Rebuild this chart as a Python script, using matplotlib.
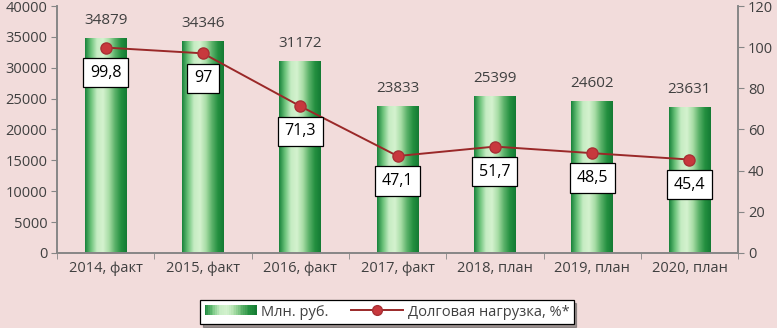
import matplotlib
matplotlib.use('Agg')
import matplotlib.pyplot as plt
import numpy as np
from matplotlib.colors import LinearSegmentedColormap
from matplotlib.legend_handler import HandlerBase
from matplotlib.patches import Rectangle
from matplotlib.lines import Line2D

plt.rcParams['font.family'] = ['Open Sans', 'DejaVu Sans']

years = ['2014, факт', '2015, факт', '2016, факт', '2017, факт',
         '2018, план', '2019, план', '2020, план']
mln_rub = [34879, 34346, 31172, 23833, 25399, 24602, 23631]
debt_load = [99.8, 97, 71.3, 47.1, 51.7, 48.5, 45.4]
debt_labels = ['99,8', '97', '71,3', '47,1', '51,7', '48,5', '45,4']

bg = '#f2dcdb'
axis_col = '#868686'
text_col = '#404040'
green_cmap = LinearSegmentedColormap.from_list(
    'grn', ['#17823a', '#6cc27a', '#c6ecc3', '#d4f2cf', '#a8dda6', '#5cb26a', '#249040', '#137a33'])

fig = plt.figure(figsize=(7.77, 3.28), dpi=100, facecolor=bg)
ax = fig.add_axes([0.0734, 0.2287, 0.8766, 0.753])
ax.set_facecolor(bg)
ax2 = ax.twinx()

x = np.arange(len(years))
w = 0.43
bars = ax.bar(x, mln_rub, width=w, color='none', edgecolor='none', zorder=2)
grad = np.linspace(0, 1, 256).reshape(1, -1)
for b in bars:
    bx, by = b.get_x(), b.get_y()
    im = ax.imshow(grad, cmap=green_cmap, aspect='auto', zorder=2,
                   extent=[bx, bx + b.get_width(), by, by + b.get_height()])
    im.set_clip_path(b)

for xi, v in zip(x, mln_rub):
    ax.annotate(str(v), (xi, v), xytext=(0, 7), textcoords='offset points',
                ha='center', va='bottom', fontsize=11, color=text_col)

ax.set_xlim(-0.5, len(years) - 0.5)
ax.set_ylim(0, 40000)
ax.set_yticks(np.arange(0, 40001, 5000))
ax.set_xticks(x)
ax.set_xticklabels(years)
ax.set_xticks(np.arange(-0.5, len(years), 1), minor=True)
ax.tick_params(axis='x', which='major', length=0, pad=6, labelsize=10.5, labelcolor=text_col)
ax.tick_params(axis='x', which='minor', length=4, color=axis_col, direction='out')
ax.tick_params(axis='y', length=4, color=axis_col, labelsize=10.5, labelcolor=text_col, pad=3)

ax2.plot(x, debt_load, color='#9a2828', lw=1.4, marker='o', ms=8,
         mfc='#c8383d', mec='#a83035', zorder=3)
for xi, v, s in zip(x, debt_load, debt_labels):
    ax2.annotate(s, (xi, v), xytext=(0, -18), textcoords='offset points',
                 ha='center', va='center', fontsize=11.5, color='black',
                 bbox=dict(boxstyle='square,pad=0.42', fc='white', ec='black', lw=0.9))
ax2.set_ylim(0, 120)
ax2.set_yticks(np.arange(0, 121, 20))
ax2.tick_params(axis='y', length=4, color=axis_col, labelsize=10.5, labelcolor=text_col, pad=3)

for a in (ax, ax2):
    a.spines['top'].set_visible(False)
    for side in ('left', 'right', 'bottom'):
        a.spines[side].set_color(axis_col)
        a.spines[side].set_linewidth(1.2)


class GradHandler(HandlerBase):
    def create_artists(self, legend, orig, xd, yd, width, height, fontsize, trans):
        arts = []
        n = 30
        for i in range(n):
            c = green_cmap((i + 0.5) / n)
            r = Rectangle((xd + width * i / n, yd + height * 0.05), width / n + 0.3, height * 0.9,
                          fc=c, ec='none', transform=trans)
            arts.append(r)
        return arts


bar_handle = Rectangle((0, 0), 1, 1)
line_handle = Line2D([], [], color='#9a2828', lw=1.4, marker='o', ms=7,
                     mfc='#c8383d', mec='#a83035')
leg = fig.legend([bar_handle, line_handle], ['Млн. руб.', 'Долговая нагрузка, %*'],
                 handler_map={Rectangle: GradHandler()}, ncol=2,
                 loc='center', bbox_to_anchor=(0.498, 0.048), frameon=True,
                 fancybox=False, shadow=True, edgecolor='black', fontsize=10.5,
                 handlelength=3.6, handleheight=0.8, columnspacing=1.5,
                 borderpad=0.3, handletextpad=0.3)
leg.get_frame().set_facecolor('white')
leg.get_frame().set_linewidth(0.9)
for t in leg.get_texts():
    t.set_color(text_col)

fig.savefig('out.png', dpi=100, facecolor=bg)
